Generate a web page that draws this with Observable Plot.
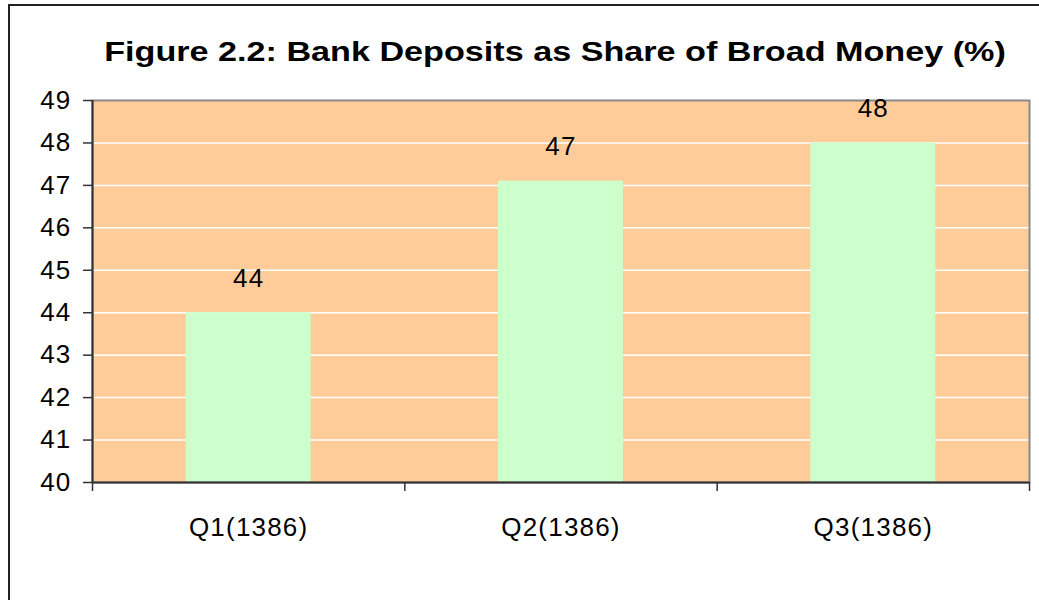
<!DOCTYPE html>
<html>
<head>
<meta charset="utf-8">
<script src="https://cdn.jsdelivr.net/npm/d3@7"></script>
<script src="https://cdn.jsdelivr.net/npm/@observablehq/plot@0.6"></script>
<style>
  html, body { margin: 0; padding: 0; background: #fff; }
  #wrap { position: relative; width: 1039px; height: 600px; overflow: hidden; font-family: "Liberation Sans", Arial, sans-serif; }
  #border { position: absolute; left: 8px; top: 4px; width: 1100px; height: 700px; border-left: 2px solid #222; border-top: 2px solid #222; }
  #title { position: absolute; left: 555px; top: 34px; transform: translateX(-50%) scaleX(1.22); transform-origin: center; white-space: nowrap;
           font-size: 28px; line-height: 36px; font-weight: bold; color: #000; }
  #chart { position: absolute; left: 0; top: 0; }
  #chart svg text { letter-spacing: 1.2px; }
</style>
</head>
<body>
<div id="wrap">
  <div id="border"></div>
  <div id="title"></div>
  <div id="chart"></div>
</div>
<script>
const titleText = "Figure 2.2: Bank Deposits as Share of Broad Money (%)";
const categories = ["Q1(1386)", "Q2(1386)", "Q3(1386)"];
const values = [44.0, 47.1, 48.0];
const yTicks = [40, 41, 42, 43, 44, 45, 46, 47, 48, 49];

document.getElementById("title").textContent = titleText;

const yMin = 40, yMax = 49;
const barFrac = 0.4; // bar width as fraction of category slot
const data = categories.map((c, i) => ({cat: c, i, value: values[i]}));
const fmt = d3.format(".0f");
const font = "'Liberation Sans', Arial, sans-serif";

const chart = Plot.plot({
  width: 1039,
  height: 600,
  marginTop: 100,
  marginLeft: 92,
  marginRight: 10,
  marginBottom: 118,
  style: {background: "transparent", fontFamily: font, overflow: "visible", color: "#000"},
  x: {domain: [0, categories.length], axis: null},
  y: {domain: [yMin, yMax], axis: null},
  marks: [
    Plot.frame({fill: "#FFCC99", stroke: null}),
    Plot.ruleY(yTicks.filter(t => t > yMin && t < yMax), {stroke: "#fff", strokeWidth: 1.5}),
    Plot.rectY(data, {x1: d => d.i + (1 - barFrac) / 2, x2: d => d.i + (1 + barFrac) / 2, y1: () => yMin, y2: "value", fill: "#CCFFCC"}),
    Plot.frame({stroke: "#888", strokeWidth: 2, fill: null}),
    Plot.ruleX([0], {stroke: "#333", strokeWidth: 2}),
    Plot.ruleY([yMin], {stroke: "#333", strokeWidth: 2}),
    Plot.text(data, {x: d => d.i + 0.5, y: "value", text: d => fmt(d.value), dy: -34, fontSize: 26, fill: "#000"}),
    Plot.axisY({ticks: yTicks, tickSize: 9, tickPadding: 12, fontSize: 26, stroke: "#333", strokeWidth: 1.5, tickFormat: d => d, fill: "#000", label: null}),
    Plot.axisX({ticks: d3.range(0, categories.length + 1), tickSize: 9, tickFormat: () => "", stroke: "#333", strokeWidth: 1.5, label: null}),
    Plot.axisX({ticks: categories.map((c, i) => i + 0.5), tickSize: 0, tickPadding: 35, fontSize: 26, tickFormat: v => categories[Math.floor(v)], fill: "#000", label: null})
  ]
});
document.getElementById("chart").appendChild(chart);
</script>
</body>
</html>
